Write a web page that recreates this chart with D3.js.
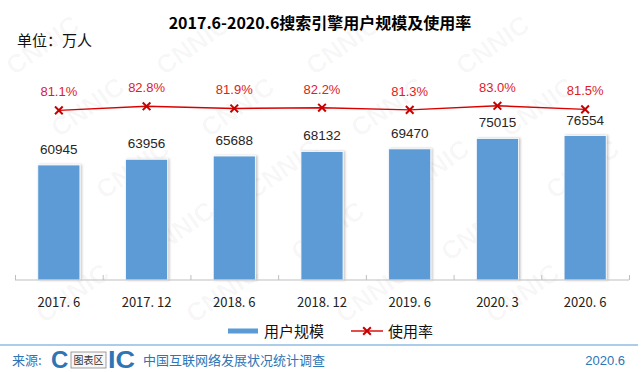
<!DOCTYPE html>
<html lang="zh">
<head>
<meta charset="UTF-8">
<title>搜索引擎用户规模及使用率</title>
<style>
  html, body { margin: 0; padding: 0; background: #fff; }
  svg { display: block; font-family: "Liberation Sans", Arial, sans-serif; }
  .cjk { font-family: "Noto Sans CJK SC", "Noto Sans", sans-serif; }
</style>
<script src="https://cdn.jsdelivr.net/npm/d3@7/dist/d3.min.js"></script>
</head>
<body>
<svg id="canvas"></svg>
<script>
// data
const categories = ['2017. 6', '2017. 12', '2018. 6', '2018. 12', '2019. 6', '2020. 3', '2020. 6'];
const users = [60945, 63956, 65688, 68132, 69470, 75015, 76554];
const rates = [81.1, 82.8, 81.9, 82.2, 81.3, 83.0, 81.5];

const width = 641;
const height = 372;
const svg = d3.select('#canvas').attr('width', width).attr('height', height);

// watermark, kept inside the picture
const wm = svg.append('g');
for (let r = 0; r < 6; r++) {
  for (let c = -2; c < 6; c++) {
    const wx = c * 150 + r * 45 + 14;
    const wy = r * 62 + 76;
    if (wx < 12 || wx > width - 86 || wy > height - 6) continue;
    wm.append('text')
      .attr('transform', 'translate(' + wx + ',' + wy + ') rotate(-35)')
      .attr('font-size', 26)
      .attr('font-weight', 'bold')
      .attr('fill', '#000')
      .attr('fill-opacity', 0.035)
      .text('CNNIC');
  }
}

// scales
const x = d3.scaleBand().domain(categories).range([15, 629]).paddingInner(0.52).paddingOuter(0.26);
const xEdge = d3.scaleLinear().domain([0, categories.length]).range([15, 629]);
const y = d3.scaleLinear().domain([0, 80000]).range([280, 129]);
const yRate = d3.scaleLinear().domain([0, 100]).range([305, 65]);

// shadow
const defs = svg.append('defs');
const f = defs.append('filter').attr('id', 'sh').attr('x', '-10%').attr('y', '-10%').attr('width', '130%').attr('height', '120%');
f.append('feDropShadow').attr('dx', 1.5).attr('dy', 0).attr('stdDeviation', 1).attr('flood-color', '#000').attr('flood-opacity', 0.25);

// title
svg.append('text').attr('class', 'cjk')
  .attr('x', 320).attr('y', 29)
  .attr('text-anchor', 'middle')
  .attr('font-size', 16).attr('font-weight', 'bold').attr('fill', '#000')
  .text('2017.6-2020.6搜索引擎用户规模及使用率');

svg.append('text').attr('class', 'cjk')
  .attr('x', 17).attr('y', 46)
  .attr('font-size', 15).attr('fill', '#111')
  .text('单位：万人');

// bars
svg.selectAll('.bar')
  .data(users)
  .enter()
  .append('rect')
  .attr('class', 'bar')
  .attr('x', (d, i) => x(categories[i]))
  .attr('width', x.bandwidth())
  .attr('y', d => y(d))
  .attr('height', d => y(0) - y(d))
  .attr('fill', '#5b9bd5')
  .attr('stroke', '#ffffff').attr('stroke-width', 0.8)
  .attr('filter', 'url(#sh)');

svg.selectAll('.val')
  .data(users)
  .enter()
  .append('text')
  .attr('x', (d, i) => x(categories[i]) + x.bandwidth() / 2)
  .attr('y', d => y(d) - 11)
  .attr('text-anchor', 'middle')
  .attr('font-size', 13.5).attr('fill', '#262626')
  .text(d => d);

// axes
const edgeAxis = d3.axisBottom(xEdge).tickValues(d3.range(categories.length + 1)).tickSize(-5).tickFormat('');
const gEdge = svg.append('g').attr('transform', 'translate(0,280)').call(edgeAxis);
gEdge.selectAll('line, path').attr('stroke', '#bfbfbf');
gEdge.select('.domain').attr('d', 'M15,0H629');

const labelAxis = d3.axisBottom(x).tickSize(0).tickPadding(18);
const gLab = svg.append('g').attr('transform', 'translate(0,280)').call(labelAxis);
gLab.select('.domain').remove();
gLab.selectAll('text').attr('class', 'cjk').attr('font-size', 13).attr('fill', '#222');

// rate line
const line = d3.line()
  .x((d, i) => x(categories[i]) + x.bandwidth() / 2)
  .y(d => yRate(d));

svg.append('path')
  .datum(rates)
  .attr('d', line)
  .attr('fill', 'none')
  .attr('stroke', '#d90000')
  .attr('stroke-width', 1.4);

const cross = d3.symbol().type(d3.symbolX).size(40);
svg.selectAll('.mk')
  .data(rates)
  .enter()
  .append('path')
  .attr('d', cross)
  .attr('transform', (d, i) => 'translate(' + (x(categories[i]) + x.bandwidth() / 2) + ',' + yRate(d) + ')')
  .attr('fill', 'none').attr('stroke', '#c80000').attr('stroke-width', 2);

svg.selectAll('.rl')
  .data(rates)
  .enter()
  .append('text')
  .attr('x', (d, i) => x(categories[i]) + x.bandwidth() / 2)
  .attr('y', d => yRate(d) - 14)
  .attr('text-anchor', 'middle')
  .attr('font-size', 13).attr('fill', '#e0201f')
  .text(d => d.toFixed(1) + '%');

// legend
const lg = svg.append('g').attr('transform', 'translate(0,331)');
lg.append('rect').attr('x', 228).attr('y', -2.5).attr('width', 30).attr('height', 5).attr('fill', '#5b9bd5');
lg.append('text').attr('class', 'cjk').attr('x', 264).attr('y', 5.5).attr('font-size', 15).attr('fill', '#111').text('用户规模');
lg.append('line').attr('x1', 351).attr('x2', 383).attr('y1', 0).attr('y2', 0).attr('stroke', '#d90000').attr('stroke-width', 1.4);
lg.append('path').attr('d', cross).attr('transform', 'translate(367,0)').attr('fill', 'none').attr('stroke', '#c80000').attr('stroke-width', 2);
lg.append('text').attr('class', 'cjk').attr('x', 388).attr('y', 5.5).attr('font-size', 15).attr('fill', '#111').text('使用率');

// footer
svg.append('line').attr('x1', 0).attr('x2', 638).attr('y1', 345).attr('y2', 345).attr('stroke', '#5b9bd5').attr('stroke-width', 1.2);
svg.append('text').attr('class', 'cjk').attr('x', 12).attr('y', 365).attr('font-size', 13).attr('fill', '#2e75b6').text('来源:');
// logo: the "NN" sits behind a small "图表区" box
svg.append('text').attr('x', 51).attr('y', 368).attr('font-size', 24).attr('font-weight', 'bold')
  .attr('fill', '#2e75b6').text('C');
svg.append('rect').attr('x', 71).attr('y', 352).attr('width', 35).attr('height', 16)
  .attr('fill', '#f7f7f7').attr('stroke', '#888').attr('stroke-width', 0.8);
svg.append('text').attr('class', 'cjk').attr('x', 88.5).attr('y', 364).attr('text-anchor', 'middle')
  .attr('font-size', 10).attr('fill', '#333').text('图表区');
svg.append('text').attr('x', 108).attr('y', 368).attr('font-size', 24).attr('font-weight', 'bold')
  .attr('fill', '#2e75b6').attr('textLength', 27).attr('lengthAdjust', 'spacingAndGlyphs').text('IC');
svg.append('text').attr('class', 'cjk').attr('x', 143).attr('y', 365).attr('font-size', 13).attr('fill', '#2e75b6').text('中国互联网络发展状况统计调查');
svg.append('text').attr('x', 625).attr('y', 365).attr('text-anchor', 'end').attr('font-size', 13).attr('fill', '#2e75b6').text('2020.6');
</script>
</body>
</html>
